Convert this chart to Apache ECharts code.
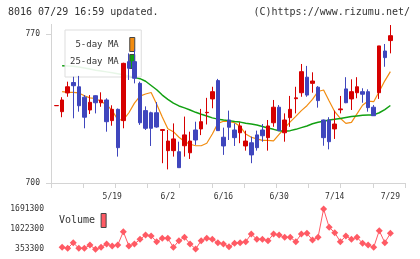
<!DOCTYPE html>
<html>
<head>
<meta charset="utf-8">
<script src="https://cdn.jsdelivr.net/npm/echarts@6/dist/echarts.min.js"></script>
<style>
html, body { margin: 0; padding: 0; background: #fff; }
#chart { width: 420px; height: 259px; }
</style>
</head>
<body>
<div id="chart"></div>
<script>
// trading days on the chart (2022)
const dates = [
  '5/2', '5/6', '5/9', '5/10', '5/11', '5/12', '5/13', '5/16', '5/17', '5/18',
  '5/19', '5/20', '5/23', '5/24', '5/25', '5/26', '5/27', '5/30', '5/31', '6/1',
  '6/2', '6/3', '6/6', '6/7', '6/8', '6/9', '6/10', '6/13', '6/14', '6/15',
  '6/16', '6/17', '6/20', '6/21', '6/22', '6/23', '6/24', '6/27', '6/28', '6/29',
  '6/30', '7/1', '7/4', '7/5', '7/6', '7/7', '7/8', '7/11', '7/12', '7/13',
  '7/14', '7/15', '7/19', '7/20', '7/21', '7/22', '7/25', '7/26', '7/27', '7/28',
  '7/29'
];
const tickLabels = ['5/19', '6/2', '6/16', '6/30', '7/14', '7/29'];

// open, close, low, high
const ohlc = [
  [736.3, 736.4, 736.3, 736.4], [733.5, 739.0, 730.9, 740.3], [742.3, 745.2, 740.5, 747.6],
  [747.2, 745.7, 730.4, 749.9], [745.2, 736.3, 733.5, 750.3], [740.3, 730.9, 725.7, 741.3],
  [734.3, 737.9, 732.4, 741.3], [741.0, 737.7, 732.7, 741.2], [737.7, 739.0, 735.8, 742.6],
  [739.0, 728.8, 724.1, 739.8], [729.3, 734.6, 726.9, 736.5], [734.6, 716.6, 712.4, 735.0],
  [729.3, 756.2, 725.7, 756.5], [757.0, 753.9, 748.4, 760.9], [757.0, 749.2, 746.8, 762.8],
  [746.8, 728.3, 727.3, 747.6], [734.0, 725.7, 724.9, 736.0], [733.0, 725.7, 717.4, 733.5],
  [733.0, 726.3, 726.0, 738.0], [724.7, 725.1, 709.3, 725.1], [715.2, 719.7, 706.4, 724.9],
  [715.2, 720.7, 712.4, 728.0], [714.7, 707.2, 707.2, 719.4], [717.5, 722.6, 712.4, 731.2],
  [714.2, 719.7, 711.3, 724.1], [724.9, 720.2, 717.9, 728.8], [725.4, 728.8, 722.5, 734.8],
  [733.0, 733.2, 727.5, 740.0], [739.5, 742.9, 735.1, 745.2], [748.1, 724.6, 724.6, 748.9],
  [721.5, 717.4, 713.2, 726.0], [729.6, 726.2, 720.2, 734.0], [724.9, 721.3, 717.4, 728.0],
  [723.6, 726.8, 718.7, 728.5], [717.4, 719.7, 715.2, 724.6], [718.9, 713.2, 709.3, 721.8],
  [722.6, 716.6, 715.2, 724.6], [724.9, 722.2, 719.4, 727.7], [721.3, 726.8, 715.2, 729.6],
  [728.3, 735.6, 726.4, 739.0], [735.6, 724.6, 724.6, 736.6], [723.6, 729.6, 719.4, 732.7],
  [730.7, 734.6, 726.4, 740.9], [739.6, 740.0, 732.7, 745.2], [742.4, 752.3, 740.5, 755.9],
  [749.7, 741.3, 740.5, 755.0], [746.8, 747.9, 742.4, 752.0], [745.0, 738.7, 735.4, 745.5],
  [729.6, 721.3, 717.5, 729.8], [729.6, 719.4, 715.8, 730.9], [725.4, 727.7, 720.7, 734.0],
  [734.4, 734.8, 732.7, 740.9], [744.2, 737.7, 737.5, 749.7], [739.5, 742.9, 734.3, 748.7],
  [742.4, 745.2, 739.8, 749.7], [742.9, 741.7, 737.7, 744.5], [742.9, 735.4, 733.5, 744.0],
  [735.6, 731.6, 731.6, 736.6], [742.4, 764.4, 739.5, 764.4], [762.0, 758.9, 754.6, 765.3],
  [766.9, 769.2, 760.9, 774.2]
];

const ma5 = [
  null, 742.9, 742.6, 742.6, 742.3, 741.0, 740.0, 739.7, 738.3, 736.8,
  734.0, 729.8, 729.6, 733.0, 737.5, 740.8, 741.8, 742.5, 737.0, 731.0,
  725.5, 724.1, 721.5, 719.5, 718.2, 717.5, 717.5, 718.7, 723.0, 728.0,
  729.0, 728.8, 728.3, 726.6, 723.0, 721.5, 720.7, 720.0, 720.0, 719.8,
  722.8, 725.8, 728.7, 731.3, 734.0, 736.3, 739.3, 743.0, 743.7, 738.5,
  733.5, 730.4, 728.0, 728.5, 732.5, 736.5, 738.5, 738.2, 743.0, 748.0,
  752.3
];
const ma25 = [
  null, 755.1, 755.0, 754.8, 754.5, 754.0, 753.5, 753.0, 752.6, 752.2,
  751.8, 751.3, 750.8, 750.3, 749.7, 749.0, 747.8, 745.8, 743.8, 741.3,
  739.3, 737.5, 736.2, 735.3, 734.3, 733.2, 732.3, 731.5, 730.6, 730.0,
  729.6, 729.3, 728.9, 728.6, 728.1, 727.7, 727.2, 726.5, 725.8, 725.2,
  724.5, 724.3, 724.6, 725.2, 726.0, 726.8, 727.8, 728.5, 729.0, 729.6,
  729.9, 730.3, 730.8, 731.2, 731.5, 731.8, 731.9, 732.0, 733.0, 734.5,
  736.4
];
const volume = [
  null, 409000, 375600, 565200, 375600, 375600, 487100, 342200, 409000, 520600,
  453700, 487100, 933100, 453700, 520600, 676700, 821600, 788200, 598600, 710100,
  710100, 409000, 632100, 743600, 520600, 353300, 632100, 710100, 676700, 565200,
  520600, 431400, 542900, 565200, 598600, 855100, 676700, 676700, 632100, 855100,
  821600, 743600, 743600, 598600, 855100, 877400, 654400, 743600, 1691300, 1078100,
  899700, 598600, 788200, 676700, 743600, 542900, 487100, 409000, 966600, 565200,
  877400
];
const volumeTicks = [353300, 1022300, 1691300];
const priceTicks = [700, 770];

const FONT = 'DejaVu Sans Mono';
const pair = (arr) => arr.map((v, i) => [i, v]).filter((d) => d[1] !== null);
const labelIdx = tickLabels.map((t) => dates.indexOf(t));

const chart = echarts.init(document.getElementById('chart'));
chart.setOption({
  animation: false,
  backgroundColor: '#fff',
  graphic: [
    {
      type: 'text', left: 8, top: 7,
      style: { text: '8016 07/29 16:59 updated.', font: '10px "DejaVu Sans Mono"', fill: '#333' }
    },
    {
      type: 'text', right: 10, top: 7,
      style: { text: '(C)https://www.rizumu.net/', font: '10px "DejaVu Sans Mono"', fill: '#333' }
    }
  ],
  legend: [
    {
      data: ['5-day MA', '25-day MA'],
      orient: 'vertical',
      left: 65, top: 30,
      align: 'right',
      icon: 'rect',
      itemWidth: 5, itemHeight: 14, itemGap: 2,
      padding: [7, 6, 8, 5],
      backgroundColor: 'rgba(255,255,255,0.9)',
      borderColor: '#ddd', borderWidth: 1,
      itemStyle: { borderColor: '#444', borderWidth: 1 },
      textStyle: { fontFamily: FONT, fontSize: 9, color: '#333', width: 50, align: 'center', padding: [0, 6, 0, 0] },
      z: 2
    },
    {
      data: ['Volume'],
      left: 59, top: 213,
      align: 'right',
      icon: 'rect',
      itemWidth: 5, itemHeight: 14,
      padding: 0,
      itemStyle: { borderColor: '#444', borderWidth: 1 },
      textStyle: { fontFamily: FONT, fontSize: 10, color: '#333', padding: [0, 1, 0, 0] }
    }
  ],
  grid: [
    { left: 51, right: 15, top: 24.4, bottom: 76 },
    { left: 51, right: 15, top: 199, bottom: 4 }
  ],
  xAxis: [
    {
      // frame axis with 11 even ticks
      type: 'value', gridIndex: 0, position: 'bottom',
      min: 0, max: 11, interval: 1,
      axisLine: { lineStyle: { color: '#d4d4d4' } },
      axisTick: { length: 5, lineStyle: { color: '#d4d4d4' } },
      axisLabel: { show: false },
      splitLine: { show: false }
    },
    {
      type: 'value', gridIndex: 0, position: 'bottom',
      min: -1, max: 62.63,
      axisLine: { show: false },
      axisTick: { show: false },
      splitLine: { show: false },
      axisLabel: {
        customValues: labelIdx,
        formatter: (v) => dates[v],
        margin: 10,
        fontFamily: FONT, fontSize: 8, color: '#333'
      }
    },
    {
      type: 'value', gridIndex: 1,
      min: -1, max: 62.63,
      show: false
    }
  ],
  yAxis: [
    {
      type: 'value', gridIndex: 0,
      min: 700, max: 774.5,
      axisLine: { show: true, lineStyle: { color: '#d4d4d4' } },
      axisTick: { show: true, customValues: priceTicks, length: 5, lineStyle: { color: '#d4d4d4' } },
      axisLabel: { customValues: priceTicks, margin: 11, fontFamily: FONT, fontSize: 8, color: '#333' },
      splitLine: { show: false }
    },
    {
      type: 'value', gridIndex: 1,
      min: 152600, max: 2025800,
      axisLine: { show: false },
      axisTick: { show: false },
      axisLabel: {
        customValues: volumeTicks,
        formatter: (v) => String(v),
        margin: 7, fontFamily: FONT, fontSize: 8, color: '#333'
      },
      splitLine: { show: false }
    }
  ],
  series: [
    {
      name: '5-day MA', type: 'line',
      xAxisIndex: 1, yAxisIndex: 0,
      data: pair(ma5),
      symbol: 'none',
      color: '#f28c10',
      lineStyle: { width: 1.2, color: '#f28c10' },
      z: 1
    },
    {
      name: '25-day MA', type: 'line',
      xAxisIndex: 1, yAxisIndex: 0,
      data: pair(ma25),
      symbol: 'none',
      color: '#12a012',
      lineStyle: { width: 1.5, color: '#12a012' },
      z: 1
    },
    {
      name: 'price', type: 'candlestick',
      xAxisIndex: 1, yAxisIndex: 0,
      data: ohlc.map((d, i) => [i, d[0], d[1], d[2], d[3]]),
      barWidth: 4,
      itemStyle: {
        color: '#d60000', color0: '#3f46bd',
        borderColor: '#d60000', borderColor0: '#3f46bd',
        borderWidth: 1
      },
      z: 3
    },
    {
      name: 'Volume', type: 'line',
      xAxisIndex: 2, yAxisIndex: 1,
      data: pair(volume),
      symbol: 'diamond', symbolSize: 7,
      color: '#ff5a64',
      lineStyle: { width: 1, color: '#ff5a64' },
      itemStyle: { color: '#ff5a64' }
    }
  ]
});
</script>
</body>
</html>
